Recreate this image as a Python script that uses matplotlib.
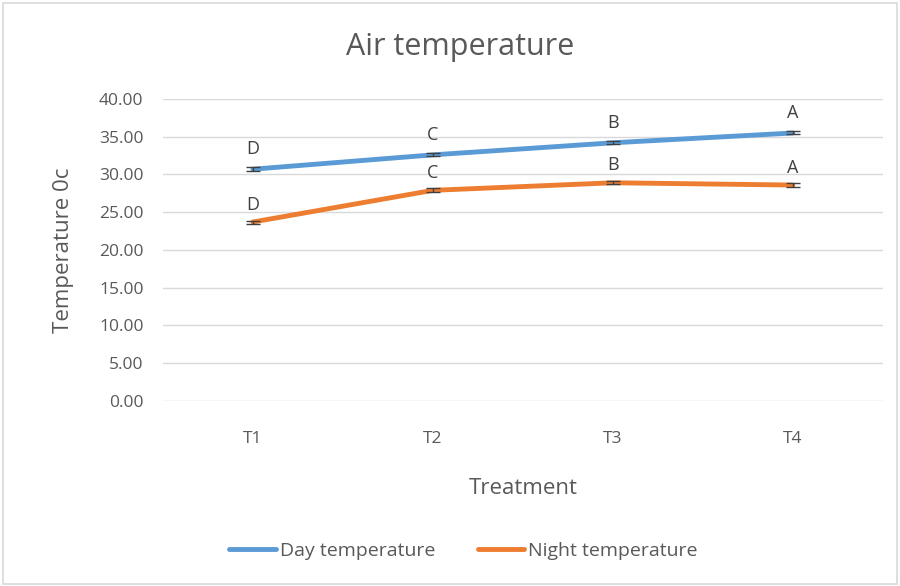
import matplotlib.pyplot as plt
from matplotlib.patches import Rectangle

# data
treatments = ['T1', 'T2', 'T3', 'T4']
day_temp = [30.7, 32.6, 34.2, 35.5]
night_temp = [23.7, 27.9, 28.9, 28.6]
day_err = [0.25, 0.2, 0.2, 0.2]
night_err = [0.2, 0.25, 0.2, 0.25]
day_letters = ['D', 'C', 'B', 'A']
night_letters = ['D', 'C', 'B', 'A']
yticks = [0, 5, 10, 15, 20, 25, 30, 35, 40]

plt.rcParams['font.family'] = ['Open Sans', 'DejaVu Sans']
txt = '#595959'

fig = plt.figure(figsize=(9, 5.86), dpi=100)
ax = fig.add_axes([0.181, 0.316, 0.8, 0.515])

x = [i + 0.5 for i in range(len(treatments))]

ax.plot(x, day_temp, color='#5b9bd5', lw=3.5, solid_capstyle='round', label='Day temperature', zorder=3)
ax.plot(x, night_temp, color='#ed7d31', lw=3.5, solid_capstyle='round', label='Night temperature', zorder=3)
ax.errorbar(x, day_temp, yerr=day_err, fmt='none', ecolor='#404040', capsize=5, elinewidth=1, zorder=4)
ax.errorbar(x, night_temp, yerr=night_err, fmt='none', ecolor='#404040', capsize=5, elinewidth=1, zorder=4)

for xi, yi, lab in zip(x, day_temp, day_letters):
    ax.annotate(lab, (xi, yi), xytext=(0, 8), textcoords='offset points',
                ha='center', va='bottom', fontsize=13, color='#404040')
for xi, yi, lab in zip(x, night_temp, night_letters):
    ax.annotate(lab, (xi, yi), xytext=(0, 6), textcoords='offset points',
                ha='center', va='bottom', fontsize=13, color='#404040')

ax.set_xlim(0, 4)
ax.set_ylim(0, 40)
ax.set_xticks(x)
ax.set_xticklabels(treatments)
ax.set_yticks(yticks)
ax.set_yticklabels([f'{v:.2f}' for v in yticks])
ax.tick_params(axis='both', length=0, labelsize=12.5, colors=txt)
ax.tick_params(axis='x', pad=22)
ax.tick_params(axis='y', pad=14)
ax.grid(axis='y', color='#d9d9d9', lw=1)
ax.set_axisbelow(True)
for s in ax.spines.values():
    s.set_visible(False)

ax.set_xlabel('Treatment', fontsize=16, color=txt, labelpad=22)
ax.set_ylabel('Temperature 0c', fontsize=16, color=txt, labelpad=18)
fig.text(0.511, 0.92, 'Air temperature', ha='center', va='center', fontsize=22, color=txt)

ax.legend(loc='center', bbox_to_anchor=(0.515, 0.06), bbox_transform=fig.transFigure,
          ncol=2, frameon=False, fontsize=14, labelcolor=txt, handlelength=2.4,
          handletextpad=0.2, columnspacing=2.2)

fig.patches.append(Rectangle((0.003, 0.003), 0.994, 0.992, transform=fig.transFigure,
                             fill=False, edgecolor='#d9d9d9', lw=1.2))

fig.savefig('out.png', dpi=100)
